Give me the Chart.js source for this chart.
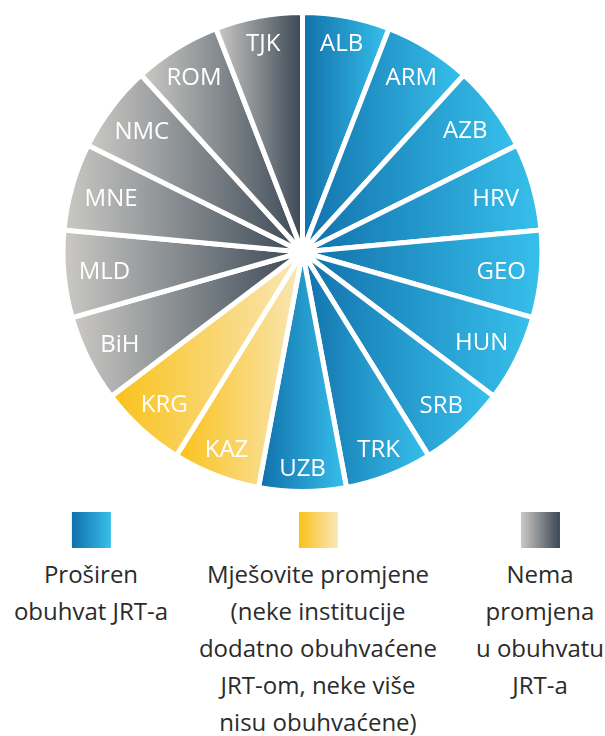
<!DOCTYPE html>
<html>
<head>
<meta charset="utf-8">
<script src="https://cdn.jsdelivr.net/npm/chart.js@4.4.0/dist/chart.umd.min.js"></script>
<style>
  html, body { margin: 0; padding: 0; background: #fff; }
  body { width: 605px; height: 736px; position: relative; overflow: hidden; font-family: 'Open Sans', sans-serif; }
  #wrap { position: absolute; left: 0; top: 0; width: 605px; height: 500px; }
  .leg { position: absolute; top: 512px; transform: translateX(-50%); text-align: center; color: #2b2b2b; font-size: 24px; line-height: 37px; white-space: nowrap; }
  .leg .box { width: 39px; height: 36px; margin: 0 auto 7px; }
</style>
</head>
<body>
<div id="wrap"><canvas id="pieChart"></canvas></div>
<div id="legend"></div>
<script>
// countries clockwise from the top
const countries = ['ALB', 'ARM', 'AZB', 'HRV', 'GEO', 'HUN', 'SRB', 'TRK', 'UZB', 'KAZ', 'KRG', 'BiH', 'MLD', 'MNE', 'NMC', 'ROM', 'TJK'];
const sliceValues = [1, 1, 1, 1, 1, 1, 1, 1, 1, 1, 1, 1, 1, 1, 1, 1, 1];
const countryGroup = ['expanded', 'expanded', 'expanded', 'expanded', 'expanded', 'expanded', 'expanded', 'expanded', 'expanded',
                      'mixed', 'mixed',
                      'none', 'none', 'none', 'none', 'none', 'none'];
const groupKeys = ['expanded', 'mixed', 'none'];
const groupLabels = [
    ['Proširen', 'obuhvat JRT-a'],
    ['Mješovite promjene', '(neke institucije', 'dodatno obuhvaćene', 'JRT-om, neke više', 'nisu obuhvaćene)'],
    ['Nema', 'promjena', 'u obuhvatu', 'JRT-a']
];

// left -> right gradient colours per group
const groupColors = {
    expanded: ['#1170a9', '#37c0ec'],
    mixed: ['#f9c21a', '#f9e7b9'],
    none: ['#cbc9c5', '#3a4754']
};
const legendX = [91, 318, 540];
const BORDER = 5;
const LABEL_SIZE = 24;

// each slice gets its own horizontal gradient across its bounding box
function sliceGradient(context) {
    const chart = context.chart;
    const area = chart.chartArea;
    const colors = groupColors[countryGroup[context.dataIndex]];
    if (!area) return colors[0];
    const cx = (area.left + area.right) / 2;
    const r = (Math.min(area.width, area.height) - BORDER) / 2;
    const total = sliceValues.reduce((a, b) => a + b, 0);
    let before = 0;
    for (let i = 0; i < context.dataIndex; i++) before += sliceValues[i];
    const a0 = -Math.PI / 2 + before / total * Math.PI * 2;
    const a1 = a0 + sliceValues[context.dataIndex] / total * Math.PI * 2;
    const xs = [cx, cx + r * Math.cos(a0), cx + r * Math.cos(a1)];
    for (let t = Math.ceil(a0 / Math.PI) * Math.PI; t < a1; t += Math.PI) {
        xs.push(cx + r * Math.cos(t));
    }
    const g = chart.ctx.createLinearGradient(Math.min(...xs), 0, Math.max(...xs), 0);
    g.addColorStop(0, colors[0]);
    g.addColorStop(1, colors[1]);
    return g;
}

const sliceLabels = {
    id: 'sliceLabels',
    afterDatasetsDraw(chart) {
        const ctx = chart.ctx;
        const meta = chart.getDatasetMeta(0);
        ctx.save();
        ctx.font = LABEL_SIZE + 'px "Open Sans"';
        ctx.fillStyle = '#ffffff';
        ctx.textAlign = 'center';
        ctx.textBaseline = 'alphabetic';
        meta.data.forEach((arc, i) => {
            const p = arc.getProps(['x', 'y', 'startAngle', 'endAngle', 'outerRadius'], true);
            const mid = (p.startAngle + p.endAngle) / 2;
            const label = chart.data.labels[i];
            const half = ctx.measureText(label).width / 2;
            const r = p.outerRadius * 0.9 - 0.65 * half * Math.abs(Math.cos(mid));
            // centre the capitals on the anchor point
            ctx.fillText(label, p.x + r * Math.cos(mid), p.y + r * Math.sin(mid) + LABEL_SIZE * 0.357);
        });
        ctx.restore();
    }
};

new Chart(document.getElementById('pieChart'), {
    type: 'pie',
    data: {
        labels: countries,
        datasets: [{
            data: sliceValues,
            backgroundColor: sliceGradient,
            borderColor: '#ffffff',
            borderWidth: BORDER
        }]
    },
    options: {
        responsive: true,
        maintainAspectRatio: false,
        animation: false,
        events: [],
        layout: { padding: { top: 10, bottom: 6 } },
        plugins: {
            legend: { display: false },
            tooltip: { enabled: false }
        }
    },
    plugins: [sliceLabels]
});

// legend below the pie
const legendEl = document.getElementById('legend');
groupKeys.forEach((key, i) => {
    const col = document.createElement('div');
    col.className = 'leg';
    col.style.left = legendX[i] + 'px';
    const box = document.createElement('div');
    box.className = 'box';
    box.style.background = 'linear-gradient(to right, ' + groupColors[key][0] + ', ' + groupColors[key][1] + ')';
    col.appendChild(box);
    groupLabels[i].forEach(line => {
        const d = document.createElement('div');
        d.textContent = line;
        col.appendChild(d);
    });
    legendEl.appendChild(col);
});
</script>
</body>
</html>
